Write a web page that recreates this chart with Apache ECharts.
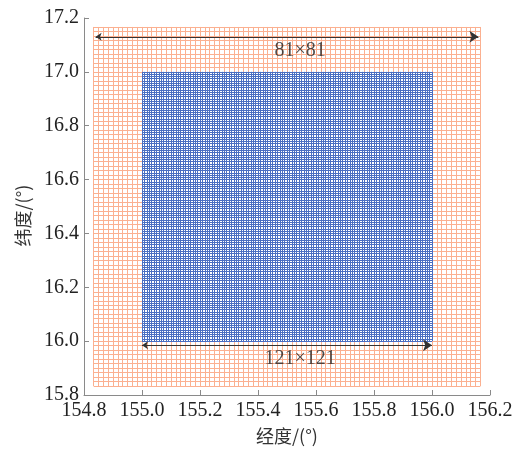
<!DOCTYPE html>
<html><head><meta charset="utf-8">
<script src="https://cdn.jsdelivr.net/npm/echarts@6/dist/echarts.min.js"></script>
<style>html,body{margin:0;padding:0;background:#fff}#c{width:520px;height:451px}</style>
</head><body><div id="c"></div>
<script>
// Outer (orange) grid: 81 x 81 nodes, spacing 1'
const outerLonRange = [154.8333, 156.1667];
const outerLatRange = [15.8333, 17.1667];
const outerCount = 81;
// Inner (blue) grid: 121 x 121 nodes, spacing 0.5'
const innerLonRange = [155.0, 156.0];
const innerLatRange = [16.0, 17.0];
const innerCount = 121;
// Dimension arrows and labels
const arrowTop = [[154.84, 17.13], [156.16, 17.13]];
const arrowBottom = [[155.0, 15.985], [156.0, 15.985]];
const labelTexts = ['81×81', '121×121'];
const labelPos = [[155.545, 17.08], [155.545, 15.935]];
const xTicks = [154.8, 155.0, 155.2, 155.4, 155.6, 155.8, 156.0, 156.2];
const yTicks = [15.8, 16.0, 16.2, 16.4, 16.6, 16.8, 17.0, 17.2];

function gridLines(lonR, latR, n) {
  const out = [];
  for (let i = 0; i < n; i++) {
    const x = lonR[0] + (lonR[1] - lonR[0]) * i / (n - 1);
    out.push({coords: [[x, latR[0]], [x, latR[1]]]});
    const y = latR[0] + (latR[1] - latR[0]) * i / (n - 1);
    out.push({coords: [[lonR[0], y], [lonR[1], y]]});
  }
  return out;
}

const serif = '"Liberation Serif","DejaVu Serif",serif';
const cjk = '"Noto Sans CJK SC",sans-serif';
const chart = echarts.init(document.getElementById('c'), null, {renderer: 'canvas'});
chart.setOption({
  animation: false,
  grid: {left: 84, right: 30, top: 18, bottom: 56},
  xAxis: {
    type: 'value', min: xTicks[0], max: xTicks[xTicks.length - 1], interval: 0.2,
    name: '经度/(°)', nameLocation: 'middle', nameGap: 32,
    nameTextStyle: {fontFamily: cjk, fontSize: 18, color: '#333'},
    axisLine: {show: true, lineStyle: {color: '#8a8a8a', width: 1}},
    axisTick: {show: true, inside: true, length: 5, lineStyle: {color: '#8a8a8a'}},
    axisLabel: {fontFamily: serif, fontSize: 20, color: '#222', margin: 6,
      formatter: v => v.toFixed(1)},
    splitLine: {show: false}
  },
  yAxis: {
    type: 'value', min: yTicks[0], max: yTicks[yTicks.length - 1], interval: 0.2,
    name: '纬度/(°)', nameLocation: 'middle', nameGap: 52, nameRotate: 90,
    nameTextStyle: {fontFamily: cjk, fontSize: 18, color: '#333', padding: [0, 18, 0, 0]},
    axisLine: {show: true, lineStyle: {color: '#8a8a8a', width: 1}},
    axisTick: {show: true, inside: true, length: 5, lineStyle: {color: '#8a8a8a'}},
    axisLabel: {fontFamily: serif, fontSize: 20, color: '#222', margin: 5,
      formatter: v => v.toFixed(1)},
    splitLine: {show: false}
  },
  series: [
    {type: 'lines', coordinateSystem: 'cartesian2d', silent: true, polyline: false,
     lineStyle: {color: '#fbb090', width: 1, opacity: 1},
     data: gridLines(outerLonRange, outerLatRange, outerCount)},
    {type: 'lines', coordinateSystem: 'cartesian2d', silent: true,
     lineStyle: {color: '#4a6fc2', width: 1, opacity: 1},
     data: gridLines(innerLonRange, innerLatRange, innerCount)},
    {type: 'lines', coordinateSystem: 'cartesian2d', silent: true,
     symbol: ['arrow', 'arrow'], symbolSize: [6, 9],
     lineStyle: {color: '#333', width: 1, opacity: 1},
     data: [{coords: arrowTop}, {coords: arrowBottom}]},
    {type: 'scatter', silent: true, symbolSize: 0,
     label: {show: true, position: 'inside', fontFamily: serif, fontSize: 20, color: '#222',
       formatter: p => p.data.name},
     data: labelPos.map((p, i) => ({name: labelTexts[i], value: p}))}
  ]
});
</script></body></html>
